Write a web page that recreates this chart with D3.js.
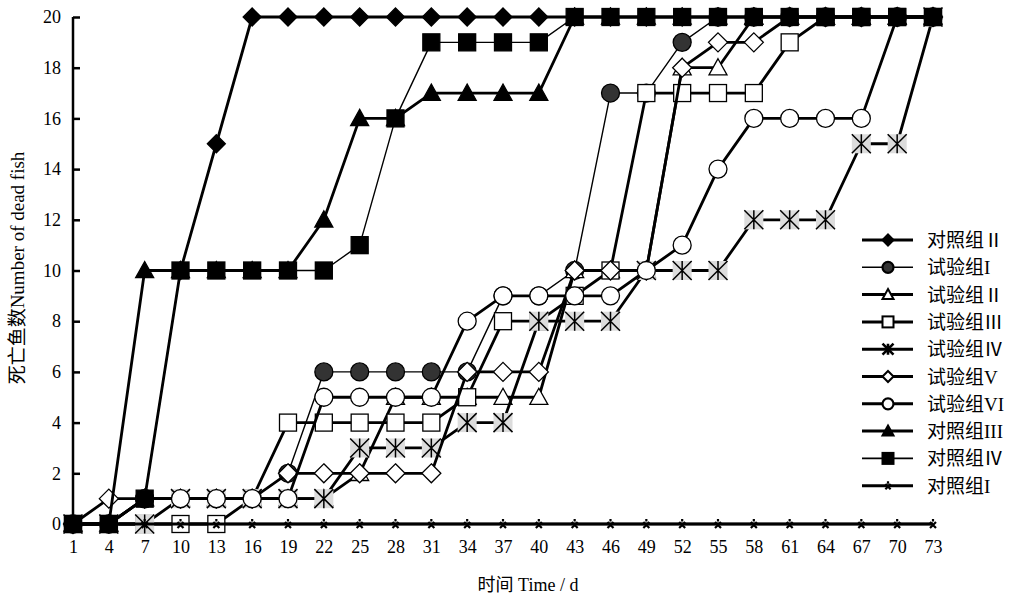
<!DOCTYPE html>
<html><head><meta charset="utf-8">
<script src="https://cdn.jsdelivr.net/npm/d3@7"></script>
<style>body{margin:0;background:#fff}</style>
</head><body>
<svg id="c" width="1011" height="599"></svg>
<script>
const days = [1,4,7,10,13,16,19,22,25,28,31,34,37,40,43,46,49,52,55,58,61,64,67,70,73];
const yTicks = [0,2,4,6,8,10,12,14,16,18,20];
const seriesNames = ["对照组Ⅱ","试验组I","试验组Ⅱ","试验组Ⅲ","试验组Ⅳ","试验组V","试验组VI","对照组III","对照组Ⅳ","对照组I"];
const ctrl2 = [0,0,1,10,15,20,20,20,20,20,20,20,20,20,20,20,20,20,20,20,20,20,20,20,20];
const test1 = [0,0,1,1,1,1,2,6,6,6,6,6,9,9,10,17,17,19,20,20,20,20,20,20,20];
const test2 = [0,0,1,1,1,1,1,1,2,5,5,5,5,5,10,10,10,18,18,20,20,20,20,20,20];
const test3 = [0,0,0,0,0,1,4,4,4,4,4,5,8,8,9,10,17,17,17,17,19,20,20,20,20];
const test4 = [0,0,0,1,1,1,1,1,3,3,3,4,4,8,8,8,10,10,10,12,12,12,15,15,20];
const test5 = [0,1,1,1,1,1,2,2,2,2,2,6,6,6,10,10,10,18,19,19,20,20,20,20,20];
const test6 = [0,0,1,1,1,1,1,5,5,5,5,8,9,9,9,9,10,11,14,16,16,16,16,20,20];
const ctrl3 = [0,0,10,10,10,10,10,12,16,16,17,17,17,17,20,20,20,20,20,20,20,20,20,20,20];
const ctrl4 = [0,0,1,10,10,10,10,10,11,16,19,19,19,19,20,20,20,20,20,20,20,20,20,20,20];
const ctrl1 = [0,0,0,0,0,0,0,0,0,0,0,0,0,0,0,0,0,0,0,0,0,0,0,0,0];

const seriesValues = [ctrl2,test1,test2,test3,test4,test5,test6,ctrl3,ctrl4,ctrl1];
const styles = [
  {m:"diamond", fill:"#000", lw:2.8, s:18},
  {m:"circle", fill:"#333", lw:1.4, s:18},
  {m:"triangle", fill:"#fff", lw:2.8, s:18},
  {m:"square", fill:"#fff", lw:2.8, s:17},
  {m:"aster", fill:"#dcdcdc", lw:2.8, s:19},
  {m:"diamond", fill:"#fff", lw:2.8, s:19},
  {m:"circle", fill:"#fff", lw:2.8, s:18},
  {m:"triangle", fill:"#000", lw:2.8, s:18},
  {m:"square", fill:"#000", lw:1.4, s:17},
  {m:"x", fill:"none", lw:2.8, s:8}
];

const svg = d3.select("#c");
const x = d3.scaleLinear().domain([1,73]).range([73,933]);
const y = d3.scaleLinear().domain([0,20]).range([524,17]);

function drawMarker(g, type, cx, cy, s, fill, legend){
  const h = s/2;
  if(type==="diamond"){
    g.append("path").attr("d",`M${cx},${cy-h}L${cx+h},${cy}L${cx},${cy+h}L${cx-h},${cy}Z`)
      .attr("fill",fill).attr("stroke","#000").attr("stroke-width",legend?2:1.3);
  } else if(type==="circle"){
    g.append("circle").attr("cx",cx).attr("cy",cy).attr("r",h)
      .attr("fill",fill).attr("stroke","#000").attr("stroke-width",legend?2.2:1.3);
  } else if(type==="triangle"){
    g.append("path").attr("d",`M${cx},${cy-h}L${cx+h},${cy+h*0.8}L${cx-h},${cy+h*0.8}Z`)
      .attr("fill",fill).attr("stroke","#000").attr("stroke-width",legend?2:1.3);
  } else if(type==="square"){
    g.append("rect").attr("x",cx-h).attr("y",cy-h).attr("width",s).attr("height",s)
      .attr("fill",fill).attr("stroke","#000").attr("stroke-width",legend?2:1.3);
  } else if(type==="aster"){
    if(!legend) g.append("rect").attr("x",cx-h).attr("y",cy-h).attr("width",s).attr("height",s).attr("fill",fill);
    g.append("path").attr("d",`M${cx},${cy-h}V${cy+h}M${cx-h},${cy-h}L${cx+h},${cy+h}M${cx+h},${cy-h}L${cx-h},${cy+h}`)
      .attr("stroke","#000").attr("stroke-width",legend?2.6:1.5).attr("fill","none");
  } else if(type==="x"){
    const k = h*0.75;
    g.append("path").attr("d",`M${cx-k},${cy-k+1}L${cx+k},${cy+k+1}M${cx+k},${cy-k+1}L${cx-k},${cy+k+1}M${cx},${cy-h-1}V${cy-h+1.5}`)
      .attr("stroke","#000").attr("stroke-width",2.2).attr("fill","none");
  }
}

// axes
const yAxis = d3.axisLeft(y).tickValues(yTicks).tickSize(-7).tickPadding(12).tickFormat(d3.format("d"));
const gy = svg.append("g").attr("transform",`translate(${x(1)},0)`).call(yAxis);
gy.select(".domain").attr("stroke","#000").attr("stroke-width",2.5).attr("d",`M0,${y(20)}V${y(0)}`);
gy.selectAll(".tick line").attr("stroke","#000").attr("stroke-width",2.5);
gy.selectAll(".tick text").attr("font-family","'Liberation Serif','Times New Roman',serif").attr("font-size",18).attr("fill","#000");

const xAxis = d3.axisBottom(x).tickValues(days).tickSize(0).tickPadding(16).tickFormat(d3.format("d"));
const gx = svg.append("g").attr("transform",`translate(0,${y(0)})`).call(xAxis);
gx.select(".domain").attr("stroke","#000").attr("stroke-width",2.5).attr("d",`M${x(1)},0H${x(73)}`);
gx.selectAll(".tick text").attr("font-family","'Liberation Serif','Times New Roman',serif").attr("font-size",18).attr("fill","#000");

// series
const line = d3.line().x((d,i)=>x(days[i])).y(d=>y(d));
seriesValues.forEach((vals,si)=>{
  const st = styles[si];
  const g = svg.append("g");
  g.append("path").datum(vals).attr("d",line).attr("fill","none").attr("stroke","#000")
    .attr("stroke-width",st.lw).attr("stroke-linejoin","round");
  vals.forEach((v,i)=>drawMarker(g, st.m, x(days[i]), y(v), st.s, st.fill, false));
});

// legend
const lg = svg.append("g");
seriesNames.forEach((n,i)=>{
  const st = styles[i];
  const ly = 240 + i*27.3;
  lg.append("line").attr("x1",862).attr("x2",913).attr("y1",ly).attr("y2",ly)
    .attr("stroke","#000").attr("stroke-width",st.lw>2?3:1.6);
  const ls = st.m==="x"? 7 : 11;
  drawMarker(lg, st.m, 888, ly, ls, st.fill, true);
  lg.append("text").attr("x",927).attr("y",ly+7).text(n)
    .attr("font-family","'Liberation Serif','Noto Sans CJK SC',serif").attr("font-size",19).attr("fill","#000");
});

// titles
svg.append("text").attr("x",528).attr("y",591).attr("text-anchor","middle")
  .attr("font-family","'Liberation Serif','Noto Sans CJK SC',serif").attr("font-size",18).text("时间 Time / d");
svg.append("text").attr("transform","translate(24,268) rotate(-90)").attr("text-anchor","middle")
  .attr("font-family","'Liberation Serif','Noto Sans CJK SC',serif").attr("font-size",19).text("死亡鱼数Number of dead fish");
</script>
</body></html>
